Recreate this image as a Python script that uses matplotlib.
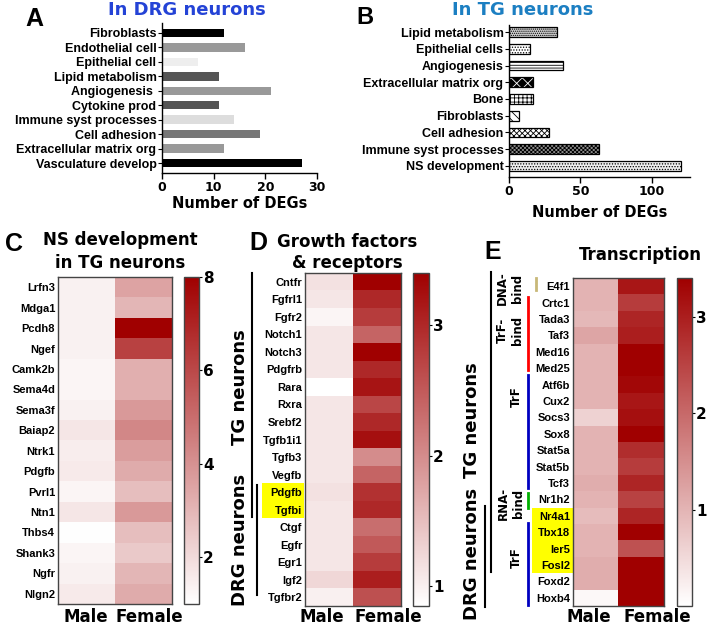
import numpy as np
import matplotlib
matplotlib.use('Agg')
import matplotlib.pyplot as plt
from matplotlib.colors import LinearSegmentedColormap
from matplotlib.lines import Line2D
from matplotlib.patches import Rectangle

plt.rcParams['font.family'] = 'DejaVu Sans'
plt.rcParams['hatch.linewidth'] = 0.6

# ---------------------------------------------------------------------------
# data
# ---------------------------------------------------------------------------
a_terms = ['Fibroblasts', 'Endothelial cell', 'Epithelial cell', 'Lipid metabolism',
           'Angiogenesis ', 'Cytokine prod', 'Immune syst processes', 'Cell adhesion',
           'Extracellular matrix org', 'Vasculature develop']
a_counts = [12, 16, 7, 11, 21, 11, 14, 19, 12, 27]
a_colors = ['#000000', '#999999', '#eeeeee', '#555555', '#999999',
            '#555555', '#dddddd', '#777777', '#999999', '#000000']

b_terms = ['Lipid metabolism', 'Epithelial cells', 'Angiogenesis', 'Extracellular matrix org',
           'Bone', 'Fibroblasts', 'Cell adhesion', 'Immune syst processes', 'NS development']
b_counts = [34, 15, 38, 17, 17, 7, 28, 63, 121]
b_faces = ['#d0d0d0', 'white', 'white', 'black', 'white', 'white', 'white', '#8a8a8a', '#eeeeee']
b_hatches = ['........', '......', '------', 'xxx', '++++', '\\\\\\\\', 'xxxxxx', 'xxxxxxxx', '......']

c_genes = ['Lrfn3', 'Mdga1', 'Pcdh8', 'Ngef', 'Camk2b', 'Sema4d', 'Sema3f', 'Baiap2',
           'Ntrk1', 'Pdgfb', 'Pvrl1', 'Ntn1', 'Thbs4', 'Shank3', 'Ngfr', 'Nlgn2']
c_male = [1.4, 1.4, 1.4, 1.4, 1.3, 1.3, 1.4, 1.7, 1.5, 1.6, 1.3, 1.7, 1.05, 1.3, 1.4, 1.6]
c_female = [3.5, 3.0, 8.0, 6.2, 3.2, 3.2, 3.8, 4.3, 3.7, 3.3, 2.8, 3.8, 2.8, 2.5, 3.0, 3.3]

d_genes = ['Cntfr', 'Fgfrl1', 'Fgfr2', 'Notch1', 'Notch3', 'Pdgfrb', 'Rara', 'Rxra', 'Srebf2',
           'Tgfb1i1', 'Tgfb3', 'Vegfb', 'Pdgfb', 'Tgfbi', 'Ctgf', 'Egfr', 'Egr1', 'Igf2', 'Tgfbr2']
d_male = [1.15, 1.1, 0.95, 1.1, 1.1, 1.1, 0.85, 1.1, 1.1, 1.1, 1.1, 1.1, 1.15, 1.1,
          1.1, 1.1, 1.1, 1.25, 1.0]
d_female = [3.4, 3.0, 2.8, 2.4, 3.4, 3.0, 3.2, 2.7, 3.0, 3.25, 2.0, 2.4, 2.9, 3.0,
            2.3, 2.5, 2.8, 3.1, 2.6]

e_genes = ['E4f1', 'Crtc1', 'Tada3', 'Taf3', 'Med16', 'Med25', 'Atf6b', 'Cux2', 'Socs3', 'Sox8',
           'Stat5a', 'Stat5b', 'Tcf3', 'Nr1h2', 'Nr4a1', 'Tbx18', 'Ier5', 'Fosl2', 'Foxd2', 'Hoxb4']
e_male = [1.0, 1.0, 0.95, 1.2, 1.0, 1.0, 1.0, 1.0, 0.6, 1.0,
          1.0, 1.0, 1.1, 1.0, 0.9, 1.0, 1.0, 1.1, 1.1, 0.1]
e_female = [3.1, 2.6, 2.9, 3.0, 3.4, 3.4, 3.3, 3.1, 3.2, 3.4,
            2.8, 2.6, 2.9, 2.5, 2.9, 3.4, 2.3, 3.4, 3.4, 3.4]

sexes = ['Male', 'Female']

# ---------------------------------------------------------------------------
W, H = 708, 628
fig = plt.figure(figsize=(W / 100, H / 100), dpi=100)


def box(x0, y0, x1, y1):
    return [x0 / W, 1 - y1 / H, (x1 - x0) / W, (y1 - y0) / H]


def ftext(x, y, s, **kw):
    fig.text(x / W, 1 - y / H, s, **kw)


def fline(x0, y0, x1, y1, **kw):
    fig.add_artist(Line2D([x0 / W, x1 / W], [1 - y0 / H, 1 - y1 / H], **kw))


lab_font = dict(family='Liberation Sans', fontweight='bold')
big_font = dict(family='DejaVu Sans', fontweight='bold')


def style_bar_axes(ax):
    for s in ['top', 'right']:
        ax.spines[s].set_visible(False)
    for s in ['left', 'bottom']:
        ax.spines[s].set_linewidth(1.0)
    ax.tick_params(axis='y', length=3, width=0.8, pad=1)
    ax.tick_params(axis='x', length=4, width=1.0, pad=2)
    for t in ax.get_xticklabels():
        t.set_fontsize(9)
        t.set_fontweight('bold')
    for t in ax.get_yticklabels():
        t.set_fontsize(9)
        t.set_fontweight('bold')
        t.set_family('Liberation Sans')


# ---- Panel A --------------------------------------------------------------
axA = fig.add_axes(box(162, 23, 317, 173))
yA = np.arange(len(a_terms))
axA.barh(yA, a_counts, height=0.58, color=a_colors, edgecolor='none')
axA.set_yticks(yA)
axA.set_yticklabels(a_terms)
axA.set_ylim(len(a_terms) - 1 + 0.69, -0.69)
axA.set_xlim(0, 30)
axA.set_xticks([0, 10, 20, 30])
style_bar_axes(axA)
axA.set_xlabel('Number of DEGs', fontsize=10.5, fontweight='bold', labelpad=1)
ftext(187, 10, 'In DRG neurons', color='#2443d6', fontsize=13, ha='center', va='center', **big_font)
ftext(34, 19, 'A', fontsize=18, ha='center', va='center', **lab_font)

# ---- Panel B --------------------------------------------------------------
axB = fig.add_axes(box(509, 25, 690, 177))
yB = np.arange(len(b_terms))
for i in range(len(b_terms)):
    if b_faces[i] == 'black':
        axB.barh(yB[i], b_counts[i], height=0.58, color='black', edgecolor='white',
                 hatch=b_hatches[i], linewidth=0)
        axB.barh(yB[i], b_counts[i], height=0.58, color='none', edgecolor='black', linewidth=0.9)
    else:
        axB.barh(yB[i], b_counts[i], height=0.58, color=b_faces[i], edgecolor='black',
                 hatch=b_hatches[i], linewidth=0.9)
axB.set_yticks(yB)
axB.set_yticklabels(b_terms)
axB.set_ylim(len(b_terms) - 1 + 0.66, -0.42)
axB.set_xlim(0, 127)
axB.set_xticks([0, 50, 100])
style_bar_axes(axB)
axB.set_xlabel('Number of DEGs', fontsize=10.5, fontweight='bold', labelpad=5)
ftext(523, 10, 'In TG neurons', color='#1c7fc2', fontsize=13, ha='center', va='center', **big_font)
ftext(365, 18, 'B', fontsize=17, ha='center', va='center', **lab_font)

# ---- heatmaps -------------------------------------------------------------
cmap = LinearSegmentedColormap.from_list('wr', ['#ffffff', '#a00000'])


def heatmap(hbox, cbox, genes, male, female, vmin, vmax, ticks, sex_x):
    ax = fig.add_axes(box(*hbox))
    cax = fig.add_axes(box(*cbox))
    data = np.column_stack([male, female])
    im = ax.imshow(data, aspect='auto', cmap=cmap, vmin=vmin, vmax=vmax, interpolation='nearest')
    ax.set_yticks(np.arange(len(genes)))
    ax.set_yticklabels(genes, fontsize=8, **lab_font)
    ax.set_xticks([])
    ax.tick_params(length=0, pad=2)
    for s in ax.spines.values():
        s.set_color('#444444')
        s.set_linewidth(1.0)
    cb = fig.colorbar(im, cax=cax, ticks=ticks)
    cb.outline.set_edgecolor('#444444')
    cb.outline.set_linewidth(1.0)
    cax.tick_params(length=2, width=0.8, pad=1)
    for t in cax.get_yticklabels():
        t.set_fontsize(11)
        t.set_fontweight('bold')
    for lbl, x in zip(sexes, sex_x):
        ftext(x, 617, lbl, fontsize=12, ha='center', va='center', **big_font)
    return ax


# ---- Panel C --------------------------------------------------------------
axC = heatmap((58, 277, 172, 604), (184, 277, 199, 604), c_genes, c_male, c_female,
              1.0, 8.0, [2, 4, 6, 8], [86, 149])
ftext(120, 240, 'NS development', fontsize=12, ha='center', va='center', **big_font)
ftext(120, 263, 'in TG neurons', fontsize=12, ha='center', va='center', **big_font)
ftext(14, 244, 'C', fontsize=18, ha='center', va='center', **lab_font)

# ---- Panel D --------------------------------------------------------------
axD = heatmap((305, 273, 401, 606), (413, 273, 429, 606), d_genes, d_male, d_female,
              0.85, 3.4, [1, 2, 3], [322, 388])
ftext(347, 242, 'Growth factors', fontsize=12, ha='center', va='center', **big_font)
ftext(347, 263, '& receptors', fontsize=12, ha='center', va='center', **big_font)
ftext(258, 243, 'D', fontsize=18, ha='center', va='center', **lab_font)
axD.add_patch(Rectangle((-0.45, 11.5), 0.44, 2, transform=axD.get_yaxis_transform(),
                        facecolor='#ffff00', edgecolor='none', clip_on=False, zorder=0))
fline(252, 273, 252, 517, color='black', lw=1.5)
fline(257, 485, 257, 595, color='black', lw=1.5)
ftext(240, 387, 'TG neurons', fontsize=13, rotation=90, ha='center', va='center', **big_font)
ftext(240, 540, 'DRG neurons', fontsize=13, rotation=90, ha='center', va='center', **big_font)

# ---- Panel E --------------------------------------------------------------
axE = heatmap((573, 278, 664, 606), (677, 278, 692, 606), e_genes, e_male, e_female,
              0.0, 3.4, [1, 2, 3], [589, 657])
ftext(640, 255, 'Transcription', fontsize=12, ha='center', va='center', **big_font)
ftext(493, 252, 'E', fontsize=18, ha='center', va='center', **lab_font)
axE.add_patch(Rectangle((-0.45, 13.5), 0.45, 4, transform=axE.get_yaxis_transform(),
                        facecolor='#ffff00', edgecolor='none', clip_on=False, zorder=0))
fline(491, 272, 491, 572, color='black', lw=1.5)
fline(485, 506, 485, 607, color='black', lw=1.5)
ftext(472, 420, 'TG neurons', fontsize=13, rotation=90, ha='center', va='center', **big_font)
ftext(472, 554, 'DRG neurons', fontsize=13, rotation=90, ha='center', va='center', **big_font)

fline(536, 278, 536, 290, color='#c8b878', lw=2)
fline(528, 297, 528, 370, color='#ff0000', lw=2)
fline(528, 375, 528, 488, color='#0000c0', lw=2)
fline(528, 493, 528, 508, color='#00b000', lw=2)
fline(528, 523, 528, 605, color='#0000c0', lw=2)
sub = dict(fontsize=8.5, rotation=90, ha='center', va='center', multialignment='center', **big_font)
ftext(510, 288, 'DNA-\nbind', **sub)
ftext(510, 330, 'TrF-\nbind', **sub)
ftext(516, 397, 'TrF', **sub)
ftext(511, 503, 'RNA-\nbind', **sub)
ftext(516, 558, 'TrF', **sub)

fig.savefig('out.png', dpi=100)
